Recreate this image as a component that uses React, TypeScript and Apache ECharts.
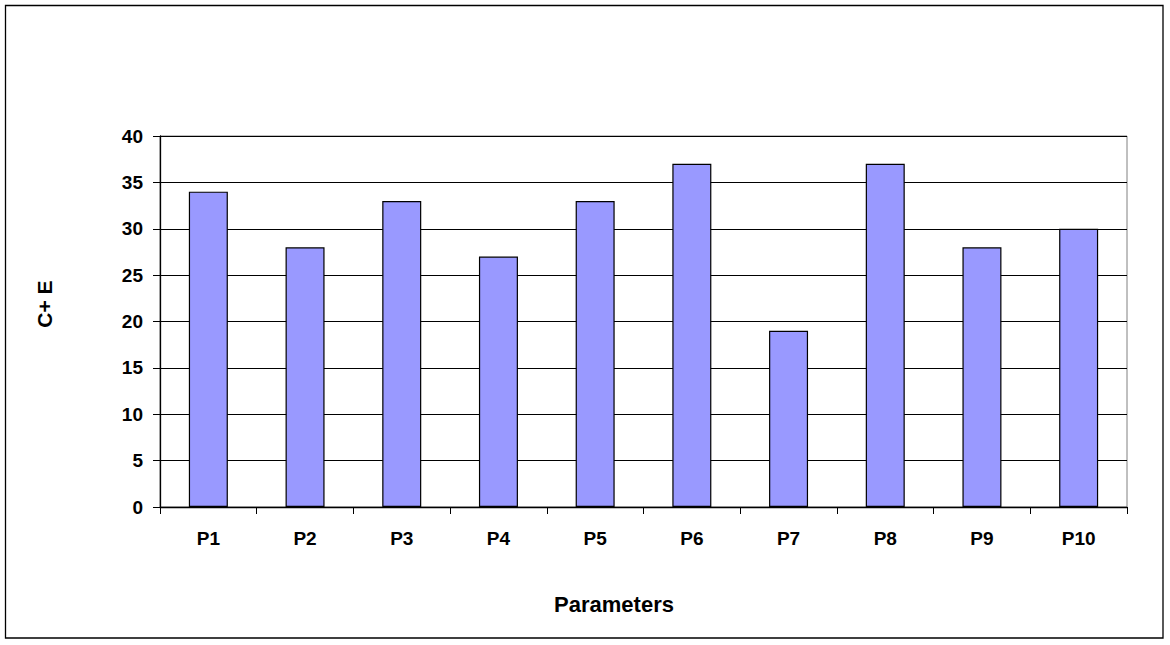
import React, { useEffect, useRef } from "react";
import * as echarts from "echarts";

const categories = ["P1", "P2", "P3", "P4", "P5", "P6", "P7", "P8", "P9", "P10"];
const values = [34, 28, 33, 27, 33, 37, 19, 37, 28, 30];
const yAxisTitle = "C+ E";
const xAxisTitle = "Parameters";

export default function App() {
  const ref = useRef<HTMLDivElement>(null);
  useEffect(() => {
    if (!ref.current) return;
    const chart = echarts.init(ref.current, null, { renderer: "svg" });
    const font = "'Liberation Sans', Arial, sans-serif";
    chart.setOption({
      animation: false,
      backgroundColor: "#ffffff",
      grid: { left: 160, top: 136, width: 967, height: 371, show: true, borderColor: "#808080", borderWidth: 1, backgroundColor: "transparent" },
      xAxis: {
        type: "category",
        data: categories,
        axisLine: { show: true, lineStyle: { color: "#000", width: 1.3 } },
        axisTick: { show: true, length: 7, lineStyle: { color: "#000" } },
        axisLabel: { color: "#000", fontFamily: font, fontWeight: "bold", fontSize: 19, margin: 22 },
        splitLine: { show: false },
      },
      yAxis: {
        type: "value",
        min: 0,
        max: 40,
        interval: 5,
        axisLine: { show: true, lineStyle: { color: "#000", width: 1.3 } },
        axisTick: { show: true, length: 7, lineStyle: { color: "#000" } },
        axisLabel: { color: "#000", fontFamily: font, fontWeight: "bold", fontSize: 19, margin: 17 },
        splitLine: { show: true, lineStyle: { color: "#000", width: 1.2 } },
      },
      series: [
        {
          type: "bar",
          data: values,
          barWidth: 39,
          itemStyle: { color: "#9999FF", borderColor: "#000", borderWidth: 1.2 },
        },
      ],
      graphic: [
        {
          type: "rect",
          shape: { x: 5.5, y: 5.5, width: 1157.5, height: 632.5 },
          style: { fill: "none", stroke: "#000", lineWidth: 1.3 },
          silent: true,
        },
        {
          type: "text",
          x: 44,
          y: 304,
          rotation: Math.PI / 2,
          style: { text: yAxisTitle, fill: "#000", font: `bold 21px ${font}`, align: "center", verticalAlign: "middle" },
        },
        {
          type: "text",
          x: 614,
          y: 604,
          style: { text: xAxisTitle, fill: "#000", font: `bold 22px ${font}`, align: "center", verticalAlign: "middle" },
        },
      ],
    });
    return () => chart.dispose();
  }, []);
  return <div ref={ref} style={{ position: "fixed", left: 0, top: 0, width: 1170, height: 645 }} />;
}
